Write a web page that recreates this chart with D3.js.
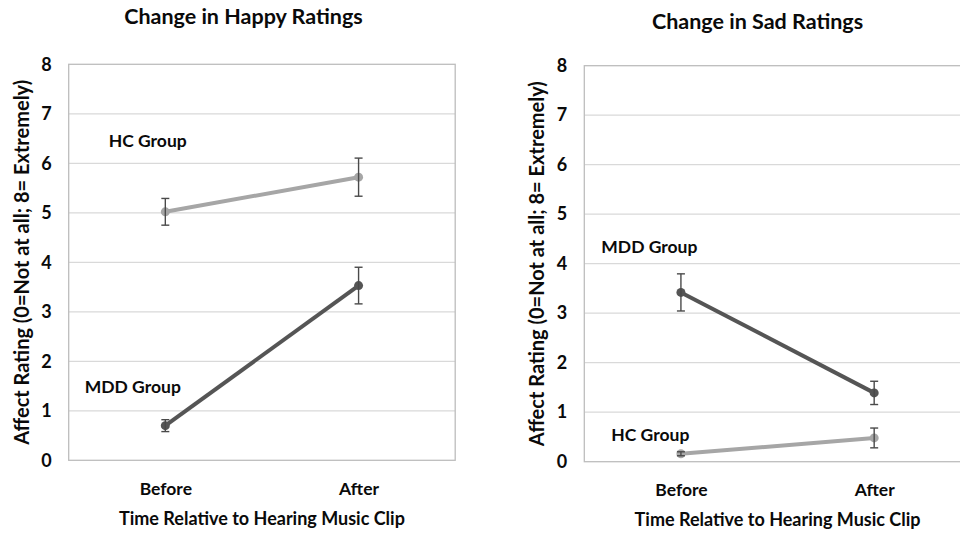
<!DOCTYPE html>
<html>
<head>
<meta charset="utf-8">
<script src="https://cdn.jsdelivr.net/npm/d3@7"></script>
<style>
  html, body { margin: 0; padding: 0; background: #fff; }
  svg { display: block; }
  text { font-family: Lato, "Noto Sans", sans-serif; font-weight: bold; fill: #0a0a0a; }
</style>
</head>
<body>
<svg id="chart" width="960" height="533"></svg>
<script>
// Time points on the x axis
const timePoints = ["Before", "After"];
const yTicks = [0, 1, 2, 3, 4, 5, 6, 7, 8];

// Happy ratings: group means and error-bar half widths
const happyHC = [5.02, 5.72];
const happyHCErr = [0.27, 0.385];
const happyMDD = [0.70, 3.53];
const happyMDDErr = [0.12, 0.37];

// Sad ratings: group means and error-bar half widths
const sadMDD = [3.42, 1.39];
const sadMDDErr = [0.375, 0.235];
const sadHC = [0.16, 0.48];
const sadHCErr = [0.04, 0.20];

const titles = ["Change in Happy Ratings", "Change in Sad Ratings"];
const yTitle = "Affect Rating (0=Not at all; 8= Extremely)";
const xTitle = "Time Relative to Hearing Music Clip";

const colors = { HC: "#a6a6a6", MDD: "#555555" };

const svg = d3.select("#chart");

const panels = [
  {
    title: titles[0], left: 68.7, top: 64.3, titleDx: -18.5, titleY: 24,
    series: [
      { name: "HC Group", key: "HC", values: happyHC, err: happyHCErr, labelX: 40, labelV: 6.45 },
      { name: "MDD Group", key: "MDD", values: happyMDD, err: happyMDDErr, labelX: 16, labelV: 1.49 }
    ]
  },
  {
    title: titles[1], left: 584.3, top: 65.7, titleDx: -20, titleY: 28.5,
    series: [
      { name: "MDD Group", key: "MDD", values: sadMDD, err: sadMDDErr, labelX: 17, labelV: 4.33 },
      { name: "HC Group", key: "HC", values: sadHC, err: sadHCErr, labelX: 27, labelV: 0.54 }
    ]
  }
];

const plotW = 386.5, plotH = 396;

panels.forEach(p => {
  const g = svg.append("g").attr("transform", `translate(${p.left},${p.top})`);
  const x = d3.scalePoint().domain(timePoints).range([0, plotW]).padding(0.5);
  const y = d3.scaleLinear().domain([0, 8]).range([plotH, 0]);

  // gridlines
  g.append("g").selectAll("line").data(yTicks.filter(t => t > 0 && t < 8)).join("line")
    .attr("x1", 0).attr("x2", plotW)
    .attr("y1", d => y(d)).attr("y2", d => y(d))
    .attr("stroke", "#d9d9d9").attr("stroke-width", 1.3);

  // plot frame
  g.append("rect").attr("x", 0).attr("y", 0).attr("width", plotW).attr("height", plotH)
    .attr("fill", "none").attr("stroke", "#bdbdbd").attr("stroke-width", 1.3);

  // y axis labels
  const yAxis = d3.axisLeft(y).tickValues(yTicks).tickSize(0).tickPadding(17);
  const ya = g.append("g").call(yAxis);
  ya.select(".domain").remove();
  ya.selectAll("text").attr("font-size", 18).attr("font-family", "Lato, sans-serif")
    .attr("font-weight", "bold").attr("fill", "#0a0a0a");

  // x axis labels
  const xAxis = d3.axisBottom(x).tickSize(0).tickPadding(22);
  const xa = g.append("g").attr("transform", `translate(0,${plotH})`).call(xAxis);
  xa.select(".domain").remove();
  xa.selectAll("text").attr("font-size", 17.5).attr("font-family", "Lato, sans-serif")
    .attr("font-weight", "bold").attr("fill", "#0a0a0a");

  // axis titles
  g.append("text").attr("x", plotW / 2).attr("y", plotH + 64.5)
    .attr("text-anchor", "middle").attr("font-size", 18).text(xTitle);
  g.append("text").attr("transform", `translate(-40,${plotH / 2}) rotate(-90)`)
    .attr("text-anchor", "middle").attr("font-size", 20).text(yTitle);

  // panel title
  svg.append("text").attr("x", p.left + plotW / 2 + p.titleDx).attr("y", p.titleY)
    .attr("text-anchor", "middle").attr("font-size", 21.5).text(p.title);

  const line = d3.line().x((d, i) => x(timePoints[i])).y(d => y(d));

  p.series.forEach(s => {
    const c = colors[s.key];
    g.append("path").datum(s.values).attr("d", line)
      .attr("fill", "none").attr("stroke", c).attr("stroke-width", 4);

    g.append("g").selectAll("circle").data(s.values).join("circle")
      .attr("cx", (d, i) => x(timePoints[i])).attr("cy", d => y(d))
      .attr("r", 4.5).attr("fill", c);

    // error bars
    const eb = g.append("g").attr("stroke", "#4a4a4a").attr("stroke-width", 1.4);
    s.values.forEach((v, i) => {
      const cx = x(timePoints[i]);
      const lo = y(v - s.err[i]), hi = y(v + s.err[i]);
      eb.append("line").attr("x1", cx).attr("x2", cx).attr("y1", lo).attr("y2", hi);
      eb.append("line").attr("x1", cx - 4).attr("x2", cx + 4).attr("y1", lo).attr("y2", lo);
      eb.append("line").attr("x1", cx - 4).attr("x2", cx + 4).attr("y1", hi).attr("y2", hi);
    });

    g.append("text").attr("x", s.labelX).attr("y", y(s.labelV))
      .attr("dy", "0.35em").attr("font-size", 17.5).text(s.name);
  });
});
</script>
</body>
</html>
